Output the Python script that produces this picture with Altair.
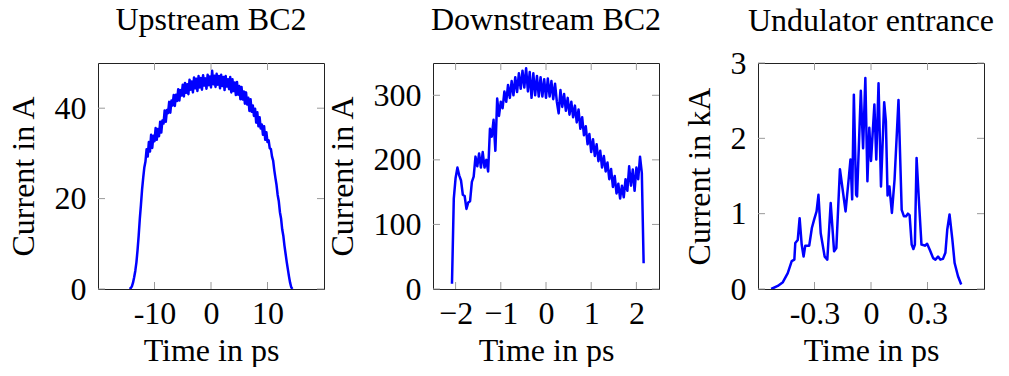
import altair as alt
import pandas as pd
import numpy as np

FONT = "Liberation Serif"
BLUE = "#0000ff"

# ---- Upstream BC2 (time grid start/step, current in A) ----
up_start, up_step = -14.4, 0.2
up_current = [
    0.0, 0.2, 0.6, 1.4, 2.6, 4.0, 5.9, 8.6, 11.8, 15.5,
    18.6, 22.0, 24.6, 26.9, 28.2, 30.9, 29.3, 32.5, 30.4, 34.1,
    31.2, 33.9, 32.7, 35.6, 33.0, 35.4, 33.8, 37.0, 34.6, 37.3,
    36.6, 39.5, 37.0, 39.6, 38.9, 41.4, 39.0, 41.7, 40.6, 42.9,
    40.5, 43.0, 41.6, 44.2, 41.7, 44.0, 42.8, 45.2, 42.6, 45.6,
    43.4, 45.3, 43.1, 46.3, 44.1, 45.9, 43.5, 46.8, 44.4, 46.5,
    43.8, 47.1, 44.6, 46.7, 44.1, 47.3, 45.0, 46.6, 44.3, 47.4,
    45.1, 47.0, 44.6, 48.3, 45.3, 47.2, 44.7, 47.6, 45.2, 47.1,
    44.4, 47.4, 44.9, 46.9, 44.0, 47.1, 44.8, 46.4, 44.2, 46.9,
    43.5, 46.4, 43.8, 45.7, 42.9, 45.8, 43.0, 44.9, 42.0, 44.7,
    41.9, 43.7, 41.0, 43.5, 40.8, 42.3, 39.4, 42.0, 39.2, 40.6,
    38.3, 39.9, 36.8, 39.1, 36.0, 38.0, 35.5, 36.4, 34.1, 36.0,
    33.0, 34.7, 32.5, 32.9, 31.1, 31.0, 29.3, 28.4, 26.3, 24.6,
    23.0, 20.8, 19.4, 17.0, 15.6, 13.2, 11.8, 9.6, 7.8, 6.0,
    4.4, 2.8, 1.4, 0.4, 0.0,
]

# ---- Downstream BC2 ----
down_start, down_step = -2.08, 0.04
down_current = [
    8, 140, 172, 188, 176, 168, 146, 144, 124, 134,
    136, 166, 174, 205, 190, 210, 188, 212, 188, 200,
    182, 248, 236, 262, 214, 295, 268, 290, 280, 306,
    290, 316, 296, 322, 300, 328, 305, 334, 310, 338,
    312, 342, 306, 336, 296, 334, 300, 330, 298, 328,
    298, 325, 296, 326, 298, 322, 294, 318, 290, 272,
    308, 282, 302, 276, 296, 270, 290, 266, 284, 258,
    278, 248, 266, 238, 252, 224, 240, 212, 232, 206,
    224, 198, 214, 188, 206, 182, 196, 170, 186, 158,
    175, 148, 163, 140, 160, 142, 170, 152, 190, 160,
    185, 152, 188, 170, 205, 180, 40,
]

# ---- Undulator entrance (ps, kA) ----
und_time = [
    -0.530, -0.495, -0.468, -0.442, -0.421, -0.407, -0.402, -0.389, -0.379, -0.368,
    -0.358, -0.349, -0.328, -0.314, -0.302, -0.289, -0.279, -0.267, -0.246, -0.232,
    -0.214, -0.196, -0.184, -0.165, -0.135, -0.117, -0.109, -0.100, -0.091, -0.079,
    -0.074, -0.054, -0.042, -0.030, -0.019, -0.009, 0.000, 0.018, 0.028, 0.040,
    0.053, 0.070, 0.079, 0.088, 0.098, 0.111, 0.125, 0.146, 0.163, 0.175,
    0.186, 0.196, 0.205, 0.216, 0.225, 0.233, 0.242, 0.256, 0.268, 0.286,
    0.298, 0.312, 0.330, 0.342, 0.356, 0.368, 0.382, 0.395, 0.405, 0.417,
    0.432, 0.444, 0.462, 0.479,
]
und_current = [
    0.0, 0.04, 0.09, 0.21, 0.37, 0.39, 0.61, 0.65, 0.94, 0.59,
    0.43, 0.575, 0.575, 0.81, 0.92, 1.03, 1.25, 0.74, 0.43, 0.39,
    1.14, 0.50, 0.545, 1.59, 1.03, 1.50, 1.72, 1.19, 2.58, 1.25,
    1.23, 2.63, 1.87, 2.80, 1.43, 2.14, 1.70, 2.45, 1.72, 2.73,
    1.36, 2.48, 2.23, 1.24, 1.36, 1.01, 1.45, 2.51, 1.05, 0.965,
    0.965, 1.0, 0.98, 0.59, 0.53, 0.59, 1.74, 1.10, 0.59, 0.575,
    0.60, 0.52, 0.41, 0.39, 0.43, 0.39, 0.40, 0.48, 0.79, 0.99,
    0.655, 0.345, 0.17, 0.06,
]

up_xticks, up_yticks = [-10, 0, 10], [0, 20, 40]
down_xticks, down_yticks = [-2, -1, 0, 1, 2], [0, 100, 200, 300]
und_xticks, und_yticks = [-0.3, 0, 0.3], [0, 1, 2, 3]

W = H = 226
TICK = 7
FS = 32
HYPHEN = "replace(datum.label, '\u2212', '-')"


def panel(t, v, title, xdom, ydom, xticks, yticks, ytitle, hyphen, xfmt, toff):
    df = pd.DataFrame({"t": t, "v": v})
    xaxis = dict(values=xticks, title="Time in ps", grid=False, ticks=False, tickSize=0,
                 domain=False, labelPadding=9, titlePadding=6, labelFlush=False, format=xfmt)
    if hyphen:
        xaxis["labelExpr"] = HYPHEN
    yaxis = dict(values=yticks, title=ytitle, grid=False, ticks=False, tickSize=0,
                 domain=False, labelPadding=12, titlePadding=14, labelFlush=False)
    xs = alt.Scale(domain=xdom, nice=False, zero=False)
    ys = alt.Scale(domain=ydom, nice=False, zero=False)
    X = lambda: alt.X("t:Q", scale=xs, axis=alt.Axis(**xaxis))
    Y = lambda: alt.Y("v:Q", scale=ys, axis=alt.Axis(**yaxis))
    line = alt.Chart(df).mark_line(color=BLUE, strokeWidth=2.5, strokeJoin="round", clip=True).encode(
        x=X(), y=Y())
    xt = pd.DataFrame({"t": xticks})
    yt = pd.DataFrame({"v": yticks})
    st = dict(color="#9a9a9a", strokeWidth=1)
    xb = alt.Chart(xt).mark_rule(**st).encode(x=X(), y=alt.value(H), y2=alt.value(H - TICK))
    xtop = alt.Chart(xt).mark_rule(**st).encode(x=X(), y=alt.value(0), y2=alt.value(TICK))
    yl = alt.Chart(yt).mark_rule(**st).encode(y=Y(), x=alt.value(0), x2=alt.value(TICK))
    yr = alt.Chart(yt).mark_rule(**st).encode(y=Y(), x=alt.value(W), x2=alt.value(W - TICK))
    return alt.layer(line, xb, xtop, yl, yr).properties(
        width=W, height=H,
        title=alt.TitleParams(text=title, font=FONT, fontSize=FS, fontWeight="normal", color="black",
                              anchor="middle", frame="group", offset=toff),
    )


up_time = list(np.round(up_start + up_step * np.arange(len(up_current)), 3))
down_time = list(np.round(down_start + down_step * np.arange(len(down_current)), 3))

p1 = panel(up_time, up_current, "Upstream BC2", [-20, 20], [0, 50], up_xticks, up_yticks,
           "Current in A", True, "d", 26)
p2 = panel(down_time, down_current, "Downstream BC2", [-2.5, 2.5], [0, 350], down_xticks, down_yticks,
           "Current in A", False, "d", 26)
p3 = panel(und_time, und_current, "Undulator entrance", [-0.6, 0.6], [0, 3], und_xticks, und_yticks,
           "Current in kA", True, ".1~f", 9)

chart = alt.hconcat(alt.hconcat(p1, p2, spacing=0), p3, spacing=20).properties(
    padding={"left": 6, "top": 3, "right": 0, "bottom": 0}, background="white"
).configure_view(stroke="#222222", strokeWidth=1).configure_axis(
    labelFont=FONT, titleFont=FONT, labelFontSize=FS, titleFontSize=FS,
    labelColor="black", titleColor="black", titleFontWeight="normal",
)

chart.save("out.html", embed_options={"renderer": "svg", "actions": False})
